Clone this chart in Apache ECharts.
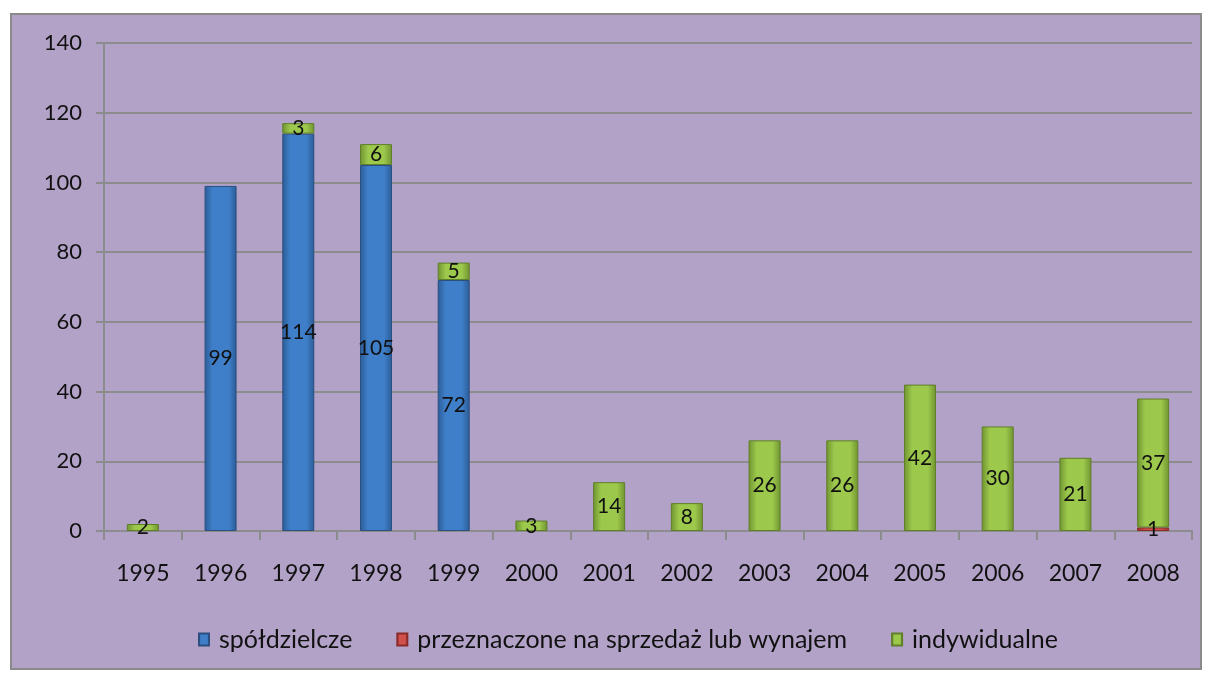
<!DOCTYPE html>
<html>
<head>
<meta charset="utf-8">
<script src="https://cdn.jsdelivr.net/npm/echarts@6/dist/echarts.min.js"></script>
<style>
html,body{margin:0;padding:0;background:#fff;}
#wrap{position:absolute;left:10px;top:13px;width:1188px;height:653px;background:#B3A2C7;border:2px solid #8a8a8a;}
#chart{position:absolute;left:-12px;top:-15px;width:1210px;height:673px;}
</style>
</head>
<body>
<div id="wrap"><div id="chart"></div></div>
<script>
const categories = ['1995','1996','1997','1998','1999','2000','2001','2002','2003','2004','2005','2006','2007','2008'];
const spoldzielcze = [0,99,114,105,72,0,0,0,0,0,0,0,0,0];
const naSprzedaz = [0,0,0,0,0,0,0,0,0,0,0,0,0,1];
const indywidualne = [2,0,3,6,5,3,14,8,26,26,42,30,21,37];
const yTicks = [0,20,40,60,80,100,120,140];

function hgrad(edge, mid){
  return new echarts.graphic.LinearGradient(0,0,1,0,[
    {offset:0,color:edge},{offset:0.25,color:mid},{offset:0.75,color:mid},{offset:1,color:edge}
  ]);
}
const FONT = 'Lato';
const labelStyle = {
  show:true, position:'inside', color:'#111', fontFamily:FONT, fontSize:21,
  formatter: p => p.value ? String(p.value) : ''
};
function mk(name, data, edge, mid, border){
  return {
    name, type:'bar', stack:'s', data: data.map(v => v === 0 ? null : v), barWidth:32,
    itemStyle:{color:hgrad(edge,mid), borderColor:border, borderWidth:1},
    label:labelStyle,
    emphasis:{disabled:true}
  };
}
const chart = echarts.init(document.getElementById('chart'));
chart.setOption({
  animation:false,
  textStyle:{fontFamily:FONT},
  grid:{left:104, right:18, top:43, bottom:142, containLabel:false},
  legend:{
    bottom:16, left:193, itemWidth:10, itemHeight:12, itemGap:44, icon:'rect',
    textStyle:{fontFamily:FONT, fontSize:25, color:'#111', padding:[0,0,0,5]},
    data:['spółdzielcze','przeznaczone na sprzedaż lub wynajem','indywidualne']
  },
  xAxis:{
    type:'category', data:categories,
    axisLine:{lineStyle:{color:'#8c8c8c', width:2}},
    axisTick:{show:true, length:9, lineStyle:{color:'#8c8c8c', width:2}},
    axisLabel:{fontFamily:FONT, fontSize:23, color:'#111', margin:31}
  },
  yAxis:{
    type:'value', min:0, max:140, interval:20,
    axisLine:{show:true, lineStyle:{color:'#8c8c8c', width:2}},
    axisTick:{show:true, length:8, lineStyle:{color:'#8c8c8c', width:2}},
    splitLine:{lineStyle:{color:'#8c8c8c', width:2}},
    axisLabel:{fontFamily:FONT, fontSize:22, color:'#111', margin:22,
      formatter: v => yTicks.includes(v) ? String(v) : ''}
  },
  series:[
    mk('spółdzielcze', spoldzielcze, '#2b5c97', '#3f7fc9', '#2a4f80'),
    mk('przeznaczone na sprzedaż lub wynajem', naSprzedaz, '#9a2f2c', '#d0504c', '#8a2a28'),
    mk('indywidualne', indywidualne, '#6f9330', '#9cc84c', '#5f7f28')
  ]
});
</script>
</body>
</html>
